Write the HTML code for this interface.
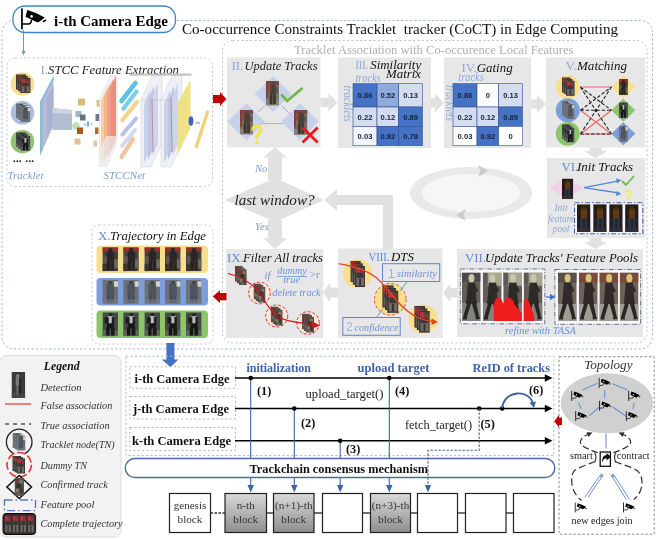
<!DOCTYPE html>
<html><head><meta charset="utf-8"><title>CoCT</title>
<style>html,body{margin:0;padding:0;background:#fff;}svg{display:block;}text{white-space:pre;}</style>
</head><body>
<svg width="658" height="540" viewBox="0 0 658 540">
<rect width="658" height="540" fill="#fff"/>

<defs>
<filter id="bl" x="-5%" y="-5%" width="110%" height="110%"><feGaussianBlur stdDeviation="0.45"/></filter>
<filter id="gb" x="0" y="0" width="658" height="540" filterUnits="userSpaceOnUse"><feGaussianBlur stdDeviation="0.4"/></filter>
<filter id="bl2" x="-5%" y="-5%" width="110%" height="110%"><feGaussianBlur stdDeviation="0.8"/></filter>
<linearGradient id="gblk" x1="0" y1="0" x2="0" y2="1"><stop offset="0" stop-color="#d9d9d9"/><stop offset="1" stop-color="#8f8f8f"/></linearGradient>
<!-- red/brown person (tracklet A) -->
<symbol id="pA" viewBox="0 0 10 16" preserveAspectRatio="none">
<rect width="10" height="16" fill="#7c7064"/>
<rect x="0" y="0" width="10" height="2.600" fill="#7c4a42"/>
<rect x="0" y="0" width="1.600" height="11" fill="#843e3a"/>
<rect x="0" y="12.500" width="10" height="3.500" fill="#8a8074"/>
<rect x="3" y="2.400" width="4.600" height="6.600" fill="#4a4036"/>
<rect x="2" y="3.500" width="2.200" height="3" fill="#8a3c36"/>
<rect x="2.800" y="9" width="2.200" height="6.200" fill="#3a342c"/>
<rect x="5.400" y="9" width="2.200" height="6.200" fill="#3e3830"/>
<rect x="4" y="0.800" width="2.600" height="2" fill="#5a4438"/>
<rect x="7.600" y="4" width="1.600" height="4" fill="#5c544a"/>
</symbol>
<symbol id="pA2" viewBox="0 0 10 16" preserveAspectRatio="none">
<rect width="10" height="16" fill="#4a423e"/>
<rect x="0.800" y="0.800" width="4.200" height="4.200" fill="#b8323a"/>
<rect x="5.500" y="2.500" width="3" height="3.500" fill="#983038"/>
<rect x="2.500" y="5.500" width="5" height="3.500" fill="#3a3532"/>
<rect x="1.500" y="9" width="7.500" height="6" fill="#6e6a66"/>
<rect x="4.200" y="9.500" width="1.800" height="5.500" fill="#34302e"/>
<rect x="0" y="0" width="10" height="16" fill="none" stroke="#2e2a28" stroke-width=".8"/>
</symbol>
<symbol id="pF" viewBox="0 0 10 16" preserveAspectRatio="none">
<rect width="10" height="16" fill="#56524a"/>
<rect x="1" y="1" width="3" height="3" fill="#7e2e30"/>
<rect x="5" y="2" width="3.500" height="3" fill="#7c7a6c"/>
<rect x="2" y="5" width="5" height="4" fill="#33302a"/>
<rect x="1.500" y="9.500" width="3" height="3" fill="#807c6e"/>
<rect x="5.500" y="9" width="3" height="5" fill="#3a3832"/>
<rect x="3" y="13" width="3" height="2.500" fill="#6c6a5e"/>
</symbol>
<symbol id="pG" viewBox="0 0 10 16" preserveAspectRatio="none">
<rect width="10" height="16" fill="#3b3b3b"/>
<rect x="3.500" y="1.500" width="2" height="2" fill="#8c8c8c"/>
<rect x="3" y="3.500" width="2.500" height="5" fill="#7a7a7a"/>
<rect x="5.500" y="4" width="1.500" height="5" fill="#262626"/>
<rect x="3.500" y="8.500" width="1.500" height="6" fill="#6a6a6a"/>
<rect x="5.500" y="9" width="1.500" height="6" fill="#202020"/>
<rect x="0" y="13" width="10" height="3" fill="#505050" opacity=".6"/>
</symbol>
<symbol id="pA3" viewBox="0 0 10 16" preserveAspectRatio="none">
<rect width="10" height="16" fill="#4a403a"/>
<rect x="0" y="0" width="10" height="2.800" fill="#9a2e2c"/>
<rect x="3.800" y="0.600" width="2.600" height="2.600" fill="#2e2826"/>
<rect x="2.800" y="3" width="4.800" height="6" fill="#2c2826"/>
<rect x="0.500" y="6" width="2.500" height="5" fill="#5e5650"/>
<rect x="2.800" y="9" width="2.200" height="6.500" fill="#262220"/>
<rect x="5.400" y="9" width="2.200" height="6.500" fill="#2a2624"/>
<rect x="7.600" y="8" width="2.400" height="6" fill="#6c6862"/>
<rect x="0" y="11" width="2.800" height="5" fill="#3a3632"/>
</symbol>
<!-- grey/blue person (tracklet B) -->
<symbol id="pB" viewBox="0 0 10 16" preserveAspectRatio="none">
<rect width="10" height="16" fill="#6c7078"/>
<rect x="2.600" y="2.600" width="5" height="6.500" fill="#50545e"/>
<rect x="2.800" y="9" width="2.200" height="6.500" fill="#464c5a"/>
<rect x="5.200" y="9" width="2.200" height="6.500" fill="#4a505e"/>
<rect x="3.800" y="0.800" width="2.600" height="2.200" fill="#4a4642"/>
<rect x="7.400" y="1" width="2.600" height="3.600" fill="#d6d4c4"/>
<rect x="0" y="13" width="10" height="3" fill="#767a80" opacity=".6"/>
</symbol>
<!-- dark/white person (tracklet C) -->
<symbol id="pC" viewBox="0 0 10 16" preserveAspectRatio="none">
<rect width="10" height="16" fill="#474a46"/>
<rect x="0" y="12" width="10" height="4" fill="#60645e"/>
<rect x="3.600" y="2.400" width="3.400" height="5" fill="#bcc0c2"/>
<rect x="1.500" y="3.400" width="2.600" height="4" fill="#1a1c1c"/>
<rect x="6" y="3" width="1.600" height="5" fill="#1e2020"/>
<rect x="3" y="7.400" width="4.400" height="3" fill="#161818"/>
<rect x="2.400" y="10" width="2.200" height="5.500" fill="#141616"/>
<rect x="5.400" y="10" width="2.400" height="5.500" fill="#181a1a"/>
<rect x="4" y="0.600" width="2.400" height="2" fill="#2a2624"/>
</symbol>
<!-- walking person (VII strips) -->
<symbol id="pD" viewBox="0 0 19 48" preserveAspectRatio="none">
<rect width="19" height="48" fill="#625e59"/>
<rect x="0" y="0" width="19" height="9" fill="#4e4a46"/>
<rect x="0" y="30" width="19" height="18" fill="#84827e"/>
<ellipse cx="9.800" cy="5.500" rx="3" ry="4.200" fill="#cbc4ae"/>
<path d="M6 10 L13.500 10 L14.500 24 L15.500 31 L4 31 L5 24Z" fill="#2d2a28"/>
<path d="M5.500 30 L9.500 30 L5 44.500 L5.500 46.500 L1 46.500 L1.500 43.500Z" fill="#282523"/>
<path d="M10 30 L14.500 30 L17.500 43.500 L18.500 46 L14 46.500 L14 43.500Z" fill="#282523"/>
<path d="M13.500 12 L16.500 18 L15 20 L12.500 16Z" fill="#2d2a28"/>
</symbol>
<symbol id="pDy" viewBox="0 0 19 48" preserveAspectRatio="none">
<rect width="19" height="48" fill="#625e59"/>
<rect x="0" y="0" width="19" height="13" fill="#a9a58e"/>
<rect x="0" y="0" width="5" height="13" fill="#5e5a54"/>
<rect x="0" y="30" width="19" height="18" fill="#84827e"/>
<ellipse cx="9.800" cy="5.500" rx="3" ry="4.200" fill="#cbc4ae"/>
<path d="M6 10 L13.500 10 L14.500 24 L15.500 31 L4 31 L5 24Z" fill="#2d2a28"/>
<path d="M5.500 30 L9.500 30 L5 44.500 L5.500 46.500 L1 46.500 L1.500 43.500Z" fill="#282523"/>
<path d="M10 30 L14.500 30 L17.500 43.500 L18.500 46 L14 46.500 L14 43.500Z" fill="#282523"/>
<path d="M13.500 12 L16.500 18 L15 20 L12.500 16Z" fill="#2d2a28"/>
</symbol>
<symbol id="pD2" viewBox="0 0 19 48" preserveAspectRatio="none">
<rect width="19" height="48" fill="#6c635a"/>
<rect x="0" y="0" width="19" height="10" fill="#5a5048"/>
<rect x="0" y="31" width="19" height="17" fill="#a09c94"/>
<ellipse cx="9.800" cy="5.500" rx="3" ry="4.200" fill="#d6c67c"/>
<path d="M6 10 L13.500 10 L14.500 24 L15.500 31 L4 31 L5 24Z" fill="#322c2a"/>
<path d="M5.500 30 L9.500 30 L5 44.500 L5.500 46.500 L1 46.500 L1.500 43.500Z" fill="#2a2523"/>
<path d="M10 30 L14.500 30 L17.500 43.500 L18.500 46 L14 46.500 L14 43.500Z" fill="#2a2523"/>
<path d="M13.500 12 L16.500 18 L15 20 L12.500 16Z" fill="#322c2a"/>
</symbol>
<symbol id="pD3" viewBox="0 0 19 48" preserveAspectRatio="none">
<rect width="19" height="48" fill="#6c635a"/>
<rect x="0" y="0" width="19" height="10" fill="#7c4c38"/>
<rect x="0" y="31" width="19" height="17" fill="#a09c94"/>
<ellipse cx="9.800" cy="5.500" rx="3" ry="4.200" fill="#d6c67c"/>
<path d="M6 10 L13.500 10 L14.500 24 L15.500 31 L4 31 L5 24Z" fill="#322c2a"/>
<path d="M5.500 30 L9.500 30 L5 44.500 L5.500 46.500 L1 46.500 L1.500 43.500Z" fill="#2a2523"/>
<path d="M10 30 L14.500 30 L17.500 43.500 L18.500 46 L14 46.500 L14 43.500Z" fill="#2a2523"/>
<path d="M13.500 12 L16.500 18 L15 20 L12.500 16Z" fill="#322c2a"/>
</symbol>
<!-- dark person (VI init) -->
<symbol id="pE" viewBox="0 0 10 16" preserveAspectRatio="none">
<rect width="10" height="16" fill="#201c1a"/>
<rect x="2.800" y="2.400" width="4.600" height="6" fill="#5e3818"/>
<rect x="3.600" y="0.800" width="2.800" height="2.200" fill="#3a2616"/>
<rect x="2.200" y="8.400" width="2.600" height="6.600" fill="#2a3242"/>
<rect x="5.400" y="8.400" width="2.600" height="6.600" fill="#263040"/>
<rect x="0" y="14" width="10" height="2" fill="#3a3836" opacity=".7"/>
</symbol>
<!-- camera icon -->
<symbol id="cam" viewBox="0 0 27 22">
<rect x="1.1" y="0.4" width="1.7" height="21" fill="#000"/>
<path d="M2.800 16 H8 Q11.500 16 11.500 11.500" stroke="#000" stroke-width="1.500" fill="none"/>
<path d="M7.300 2.100 Q16 4.500 24.800 9.600 L22 11.800 Q19.500 13.800 17.600 14.600 L5.500 8.800 Z" fill="#000"/>
<circle cx="11.600" cy="8.400" r="1.300" fill="#fff"/>
<path d="M22.300 13.300 L25.500 11.300 L26.500 12.400 L23.600 14.400 Z" fill="#000"/>
</symbol>
</defs>
<g filter="url(#gb)"><rect x="2" y="20.5" width="650.500" height="328.500" rx="12" fill="none" stroke="#9db7dc" stroke-width="1" stroke-dasharray="2.2 2.2"/>
<rect x="222.5" y="40.5" width="424.500" height="302.500" rx="10" fill="none" stroke="#c4c4c4" stroke-width="1" stroke-dasharray="2.2 2.2"/>
<rect x="13" y="6" width="162.5" height="26.5" rx="12" fill="#fff" stroke="#3e86c6" stroke-width="1.3"/>
<use href="#cam" x="20" y="8" width="27" height="22"/>
<text x="54" y="25.5" fill="#000" text-anchor="start" style='font-family:"Liberation Serif", serif;font-size:15px;font-weight:bold;' textLength="114" lengthAdjust="spacingAndGlyphs">i-th Camera Edge</text>
<path d="M23.5 30 V54" stroke="#6f93c9" stroke-width="1"/><path d="M21.5 51 L23.5 55.5 L25.5 51Z" fill="#6f93c9"/>
<text x="182" y="33.5" fill="#111" text-anchor="start" style='font-family:"Liberation Serif", serif;font-size:15.05px;' xml:space="preserve" textLength="436" lengthAdjust="spacingAndGlyphs">Co-occurrence Constraints Tracklet  tracker (CoCT) in Edge Computing</text>
<text x="294" y="53.7" fill="#b0b0b0" text-anchor="start" style='font-family:"Liberation Serif", serif;font-size:12.6px;' textLength="279.5" lengthAdjust="spacingAndGlyphs">Tracklet Association with Co-occurence Local Features</text>
<rect x="7" y="58" width="205.5" height="128.5" rx="8" fill="#fff" stroke="#c9c9c9" stroke-width="1" stroke-dasharray="2.2 2.2"/>
<text x="40.5" y="73.5" fill="#8fa9d8" text-anchor="start" style='font-family:"Liberation Serif", serif;font-size:12.9px;' >I.</text>
<text x="48" y="73.5" fill="#222" text-anchor="start" style='font-family:"Liberation Serif", serif;font-size:12.9px;font-style:italic;' textLength="131" lengthAdjust="spacingAndGlyphs">STCC Feature Extraction</text>
<circle cx="22.5" cy="84" r="11.800" fill="#f8df8e"/>
<g filter="url(#bl)"><use href="#pA2" x="16.0" y="74.5" width="10" height="15"/><use href="#pA2" x="18.2" y="76.3" width="10" height="15"/><use href="#pA2" x="20.4" y="78.1" width="10" height="15"/></g>
<circle cx="22.5" cy="112.8" r="11.800" fill="#a9c0e2"/>
<g filter="url(#bl)"><use href="#pB" x="16.0" y="103.3" width="10" height="15"/><use href="#pB" x="18.2" y="105.1" width="10" height="15"/><use href="#pB" x="20.4" y="106.9" width="10" height="15"/></g>
<circle cx="22.5" cy="141.7" r="11.800" fill="#8fc477"/>
<g filter="url(#bl)"><use href="#pC" x="16.0" y="132.2" width="10" height="15"/><use href="#pC" x="18.2" y="134.0" width="10" height="15"/><use href="#pC" x="20.4" y="135.8" width="10" height="15"/></g>
<text x="13" y="162" fill="#000" text-anchor="start" style='font-family:"Liberation Serif", serif;font-size:10.5px;font-weight:bold;' letter-spacing="0.3">...</text>
<text x="25.5" y="162" fill="#000" text-anchor="start" style='font-family:"Liberation Serif", serif;font-size:10.5px;font-weight:bold;' letter-spacing="0.3">...</text>
<text x="7.5" y="178.5" fill="#7f9bd0" text-anchor="start" style='font-family:"Liberation Serif", serif;font-size:11px;font-style:italic;' >Tracklet</text>
<text x="103.5" y="178.5" fill="#7f9bd0" text-anchor="start" style='font-family:"Liberation Serif", serif;font-size:11px;font-style:italic;' >STCCNet</text>

<g filter="url(#bl)">
<!-- first conv slab -->
<path d="M40 102 L53.5 76 L53.5 126 L40 155.5Z" fill="#b6bcd6"/>
<path d="M40 102 L53.5 76 L53.5 80 L42.5 101 L42.5 150 L40 155.5Z" fill="#86bcd4"/>
<path d="M47 98 L53.5 86 L53.5 122 L47 135Z" fill="#a9aed0" opacity=".9"/>
<!-- funnel -->
<path d="M52.5 108 L72 110 L72 130 L52.5 130Z" fill="#b4bed2"/>
<path d="M52.5 108 L72 110 L72 114 L52.5 113Z" fill="#ccd4e2"/>
<!-- small cubes -->
<rect x="78" y="98.500" width="7" height="7" fill="#d9bc7c"/>
<rect x="75.500" y="111" width="6" height="6" fill="#a4b4c8"/>
<rect x="80" y="114.500" width="5.500" height="6" fill="#6a7078"/>
<circle cx="76" cy="126" r="3.800" fill="#bfe0b0"/>
<rect x="77" y="127.500" width="6" height="6.500" fill="#a8581e"/>
<rect x="74.500" y="138.500" width="6" height="6" fill="#e2c39e"/>
<rect x="96.500" y="100" width="4" height="6.500" fill="#dfc084"/>
<rect x="95.500" y="114" width="4" height="7" fill="#6e7884"/>
<rect x="95" y="127.500" width="3.500" height="6.500" fill="#b06a32"/>
<rect x="93.500" y="140.500" width="3.500" height="6" fill="#e6bfb0"/>
<ellipse cx="88" cy="124" rx="1.300" ry="3" fill="#6fb0e0"/>
<ellipse cx="85" cy="124.500" rx=".8" ry="1.800" fill="#9fd0c8"/>
<ellipse cx="91.500" cy="124" rx=".8" ry="1.800" fill="#a8d8c8"/>
<!-- STCC block 1 : orange/red slabs in glass box -->
<path d="M99.500 100 L110 76 L117 76 L117 142 L107 166.500 L99.500 166.500Z" fill="#f2f3f7" stroke="#cfd2da" stroke-width=".5"/>
<path d="M101 101 L107 88 L107 152 L101 164Z" fill="#f6cf9c"/>
<path d="M104 97 L110 83 L110 150 L104 162Z" fill="#f4b48c"/>
<path d="M107.500 92 L113 79 L113 146 L107.500 158Z" fill="#f09e88"/>
<path d="M111 86 L116 76 L116 140 L111 151Z" fill="#ee8c80"/>
<path d="M99.500 150 L106 136 L117 136 L117 142 L107 166.500 L99.500 166.500Z" fill="#eceef4" opacity=".7"/>
<!-- diagonal bars -->
<path d="M121.5 101 L135.5 83" stroke="#5cc2e2" stroke-width="4.6" stroke-linecap="round" fill="none"/>
<path d="M123.5 108.5 L136.5 91.5" stroke="#7acfe8" stroke-width="4.2" stroke-linecap="round" fill="none"/>
<path d="M122.4 120 L137 102" stroke="#f2d58a" stroke-width="4.2" stroke-linecap="round" fill="none"/>
<path d="M122.4 134.5 L136 118.5" stroke="#b8c2e6" stroke-width="4.2" stroke-linecap="round" fill="none"/>
<path d="M122 146 L135 130" stroke="#d2d9ef" stroke-width="3.8" stroke-linecap="round" fill="none"/>
<path d="M121.5 157 L133 139" stroke="#f1c4a2" stroke-width="4.2" stroke-linecap="round" fill="none"/>
<!-- glass box 2 -->
<path d="M141 100 L152 75.500 L162 75.500 L162 143 L151 167 L141 167Z" fill="#eef0f6" stroke="#c6cad4" stroke-width=".5"/>
<path d="M144 104 L150 90 L150 150 L144 163Z" fill="#c9d2e8"/>
<path d="M148 100 L154 86 L154 147 L148 160Z" fill="#bcc7e2"/>
<path d="M152.500 96 L158 83 L158 144 L152.500 156Z" fill="#cdd5ea"/>
<path d="M151.500 98 L152.500 98 L153.500 152 L152.500 152Z" fill="#c686a8"/>
<!-- glass box 3 -->
<path d="M161 100 L172 75.500 L182 75.500 L182 143 L171 167 L161 167Z" fill="#eef0f6" stroke="#c6cad4" stroke-width=".5" opacity=".95"/>
<path d="M164 104 L170 90 L170 150 L164 163Z" fill="#c9d2e8"/>
<path d="M168 100 L174 86 L174 147 L168 160Z" fill="#bcc7e2"/>
<path d="M172.500 96 L178 83 L178 144 L172.500 156Z" fill="#cdd5ea"/>
<path d="M170.500 98 L171.500 98 L172.500 152 L171.500 152Z" fill="#c686a8"/>
<path d="M141 100 H161 M161 100 H172" stroke="#b9bec9" stroke-width=".5"/>
<!-- top grey bar -->
<rect x="129.500" y="73.500" width="62" height="2.200" fill="#c4c4c4"/>
<!-- yellow plane -->
<path d="M177.500 103 L190.500 80 L190.500 128 L177.500 155Z" fill="#eee07c" opacity=".93"/>
<ellipse cx="191" cy="121" rx="2.400" ry="4.800" fill="#3866c0"/>
<rect x="195.500" y="121.800" width="4.500" height="2" fill="#b4b8c0"/>
<!-- final pencil bar -->
<path d="M194.500 147 L206.500 110 L209.500 111 L197.500 148.500Z" fill="#f0cf74"/>
</g>

<path d="M213 95 H220 V92 L226.5 99 L220 106 V103 H213Z" fill="#c00000"/>
<rect x="227" y="57.5" width="93.5" height="90" fill="#e7e7e7"/>
<rect x="338" y="57.5" width="93" height="90.5" fill="#e7e7e7"/>
<rect x="444" y="57.5" width="87" height="90.5" fill="#e7e7e7"/>
<rect x="546" y="57.5" width="99" height="90" fill="#e7e7e7"/>
<rect x="547" y="158" width="98" height="80" fill="#e7e7e7"/>
<rect x="457" y="249" width="186" height="88" fill="#e7e7e7"/>
<rect x="338" y="248.5" width="104.6" height="89.5" fill="#e7e7e7"/>
<rect x="226" y="249" width="97.3" height="89" fill="#e7e7e7"/>
<path d="M320.5 97.8 H328.5 V93.3 L337.5 102.5 L328.5 111.7 V107.2 H320.5Z" fill="#e1e1e1"/>
<path d="M431 98.3 H435 V93.8 L444 103 L435 112.2 V107.7 H431Z" fill="#e1e1e1"/>
<path d="M531 99.5 H537 V95 L546 104 L537 113 V108.5 H531Z" fill="#e1e1e1"/>
<path d="M589.5 147.5 V151 H583.5 L595.5 158 L607.5 151 H601.5 V147.5Z" fill="#e1e1e1"/>
<path d="M589.5 238 V242 H583.5 L595.5 249 L607.5 242 H601.5 V238Z" fill="#e1e1e1"/>
<path d="M457.5 288.1 H450.5 V283.40000000000003 L443 292.8 L450.5 302.2 V297.5 H457.5Z" fill="#e1e1e1"/>
<path d="M338.5 287.4 H330 V282.5 L323 292.5 L330 302.5 V297.6 H338.5Z" fill="#e1e1e1"/>
<path d="M268 180 V157.5 H263 L275 147.5 L287 157.5 H282 V180Z" fill="#e1e1e1"/>
<path d="M268 220 V238 H263 L275 249 L287 238 H282 V220Z" fill="#e1e1e1"/>
<path d="M225 200 L275 178 L324 200 L275 222Z" fill="#e1e1e1"/>
<path d="M324 200 L337 189 V195 H393 V249 H383 V205 H337 V211Z" fill="#e1e1e1"/>
<text x="274.5" y="204.5" fill="#222" text-anchor="middle" style='font-family:"Liberation Serif", serif;font-size:15.1px;font-style:italic;' textLength="80" lengthAdjust="spacingAndGlyphs">last window?</text>
<text x="255" y="172" fill="#7f9bd0" text-anchor="start" style='font-family:"Liberation Serif", serif;font-size:10.5px;font-style:italic;' >No</text>
<text x="255" y="230.2" fill="#7f9bd0" text-anchor="start" style='font-family:"Liberation Serif", serif;font-size:10.5px;font-style:italic;' >Yes</text>
<ellipse cx="471" cy="193" rx="61" ry="26" fill="#e9e9e9"/>
<ellipse cx="471" cy="193" rx="49" ry="19" fill="#f6f6f6"/>
<path d="M478 165 L488 171 L478 177 L480.5 171Z" fill="#cbcbcb"/>
<path d="M466 209 L456 215 L466 221 L463.500 215Z" fill="#cbcbcb"/>
<text x="231.5" y="70" fill="#8fa9d8" text-anchor="start" style='font-family:"Liberation Serif", serif;font-size:12.9px;' >II.</text>
<text x="244.5" y="70" fill="#222" text-anchor="start" style='font-family:"Liberation Serif", serif;font-size:12.9px;font-style:italic;' textLength="73" lengthAdjust="spacingAndGlyphs">Update Tracks</text>
<path d="M254.5 94 L273 76 L291.5 94 L273 112Z" fill="#c5d3ea"/>
<path d="M227.3 121.8 L246.3 103.3 L265.3 121.8 L246.3 140.3Z" fill="#c5d3ea"/>
<path d="M281.5 121.8 L300 103.3 L318.5 121.8 L300 140.3Z" fill="#c5d3ea"/>
<path d="M257.700 112 L265.300 105.400 M282 106 L291 115 M262 123.600 L283 123.600" stroke="#9fafd6" stroke-width="1" fill="none"/>
<g filter="url(#bl)"><use href="#pA" x="266" y="81" width="13" height="24.500"/>
<use href="#pA" x="240" y="110" width="13" height="24.500"/>
<use href="#pA" x="294" y="110" width="13.500" height="25"/></g>
<path d="M281.200 94.500 L287.300 100.800 L302.500 88" stroke="#70b84a" stroke-width="2.800" fill="none"/>
<path d="M252.800 130.500 C252.500 124.500 261 124.500 260.800 130 C260.700 133.500 256.500 133.500 256.500 138.500" stroke="#f2e63e" stroke-width="3" fill="none"/><circle cx="256.500" cy="142.200" r="1.800" fill="#f2e63e"/>
<path d="M302.500 127.400 L317.700 142.600 M317.700 127.400 L302.500 142.600" stroke="#e01c24" stroke-width="2.800" fill="none"/>
<text x="355.5" y="69" fill="#8fa9d8" text-anchor="start" style='font-family:"Liberation Serif", serif;font-size:12.9px;' textLength="12.5" lengthAdjust="spacingAndGlyphs">III.</text>
<text x="370.2" y="69" fill="#111" text-anchor="start" style='font-family:"Liberation Serif", serif;font-size:12.9px;font-style:italic;' textLength="51" lengthAdjust="spacingAndGlyphs">Similarity</text>
<text x="386" y="78" fill="#111" text-anchor="start" style='font-family:"Liberation Serif", serif;font-size:12.9px;font-style:italic;' textLength="35" lengthAdjust="spacingAndGlyphs">Matrix</text>
<text x="355.5" y="82.3" fill="#8fa9d8" text-anchor="start" style='font-family:"Liberation Serif", serif;font-size:12px;font-style:italic;' textLength="25" lengthAdjust="spacingAndGlyphs">tracks</text>
<text transform="translate(344,85.5) rotate(90)" fill="#8fa9d8" textLength="36.5" lengthAdjust="spacingAndGlyphs" style='font-family:"Liberation Serif", serif;font-size:11.5px;font-style:italic'>tracklets</text>
<rect x="353" y="83.7" width="24" height="23.299999999999997" fill="#4472c4" stroke="#2f4f8f" stroke-width=".6"/><text x="365.0" y="98.35" text-anchor="middle" fill="#15203a" style='font-family:"Liberation Sans", sans-serif;font-size:7.6px;font-weight:bold'>0.86</text><rect x="377" y="83.7" width="21.69999999999999" height="23.299999999999997" fill="#8faadc" stroke="#2f4f8f" stroke-width=".6"/><text x="387.85" y="98.35" text-anchor="middle" fill="#15203a" style='font-family:"Liberation Sans", sans-serif;font-size:7.6px;font-weight:bold'>0.52</text><rect x="398.7" y="83.7" width="23.80000000000001" height="23.299999999999997" fill="#d3dcf0" stroke="#2f4f8f" stroke-width=".6"/><text x="410.6" y="98.35" text-anchor="middle" fill="#15203a" style='font-family:"Liberation Sans", sans-serif;font-size:7.6px;font-weight:bold'>0.13</text><rect x="353" y="107" width="24" height="19.299999999999997" fill="#d3dcf0" stroke="#2f4f8f" stroke-width=".6"/><text x="365.0" y="119.65" text-anchor="middle" fill="#15203a" style='font-family:"Liberation Sans", sans-serif;font-size:7.6px;font-weight:bold'>0.22</text><rect x="377" y="107" width="21.69999999999999" height="19.299999999999997" fill="#d3dcf0" stroke="#2f4f8f" stroke-width=".6"/><text x="387.85" y="119.65" text-anchor="middle" fill="#15203a" style='font-family:"Liberation Sans", sans-serif;font-size:7.6px;font-weight:bold'>0.12</text><rect x="398.7" y="107" width="23.80000000000001" height="19.299999999999997" fill="#4472c4" stroke="#2f4f8f" stroke-width=".6"/><text x="410.6" y="119.65" text-anchor="middle" fill="#15203a" style='font-family:"Liberation Sans", sans-serif;font-size:7.6px;font-weight:bold'>0.89</text><rect x="353" y="126.3" width="24" height="19.39999999999999" fill="#f3f5fb" stroke="#2f4f8f" stroke-width=".6"/><text x="365.0" y="139.0" text-anchor="middle" fill="#15203a" style='font-family:"Liberation Sans", sans-serif;font-size:7.6px;font-weight:bold'>0.03</text><rect x="377" y="126.3" width="21.69999999999999" height="19.39999999999999" fill="#4472c4" stroke="#2f4f8f" stroke-width=".6"/><text x="387.85" y="139.0" text-anchor="middle" fill="#15203a" style='font-family:"Liberation Sans", sans-serif;font-size:7.6px;font-weight:bold'>0.92</text><rect x="398.7" y="126.3" width="23.80000000000001" height="19.39999999999999" fill="#4472c4" stroke="#2f4f8f" stroke-width=".6"/><text x="410.6" y="139.0" text-anchor="middle" fill="#15203a" style='font-family:"Liberation Sans", sans-serif;font-size:7.6px;font-weight:bold'>0.78</text>
<text x="461.5" y="71.5" fill="#8fa9d8" text-anchor="start" style='font-family:"Liberation Serif", serif;font-size:12.9px;' >IV.</text>
<text x="476.7" y="71.5" fill="#111" text-anchor="start" style='font-family:"Liberation Serif", serif;font-size:12.9px;font-style:italic;' textLength="36" lengthAdjust="spacingAndGlyphs">Gating</text>
<text x="458.3" y="81" fill="#8fa9d8" text-anchor="start" style='font-family:"Liberation Serif", serif;font-size:12px;font-style:italic;' textLength="25.5" lengthAdjust="spacingAndGlyphs">tracks</text>
<text transform="translate(445.5,85) rotate(90)" fill="#8fa9d8" textLength="36" lengthAdjust="spacingAndGlyphs" style='font-family:"Liberation Serif", serif;font-size:11.5px;font-style:italic'>tracklets</text>
<rect x="453" y="83.7" width="24" height="23.299999999999997" fill="#4472c4" stroke="#2f4f8f" stroke-width=".6"/><text x="465.0" y="98.35" text-anchor="middle" fill="#15203a" style='font-family:"Liberation Sans", sans-serif;font-size:7.6px;font-weight:bold'>0.86</text><rect x="477" y="83.7" width="21.69999999999999" height="23.299999999999997" fill="#ffffff" stroke="#2f4f8f" stroke-width=".6"/><text x="487.85" y="98.35" text-anchor="middle" fill="#15203a" style='font-family:"Liberation Sans", sans-serif;font-size:7.6px;font-weight:bold'>0</text><rect x="498.7" y="83.7" width="23.80000000000001" height="23.299999999999997" fill="#d3dcf0" stroke="#2f4f8f" stroke-width=".6"/><text x="510.6" y="98.35" text-anchor="middle" fill="#15203a" style='font-family:"Liberation Sans", sans-serif;font-size:7.6px;font-weight:bold'>0.13</text><rect x="453" y="107" width="24" height="19.299999999999997" fill="#d3dcf0" stroke="#2f4f8f" stroke-width=".6"/><text x="465.0" y="119.65" text-anchor="middle" fill="#15203a" style='font-family:"Liberation Sans", sans-serif;font-size:7.6px;font-weight:bold'>0.22</text><rect x="477" y="107" width="21.69999999999999" height="19.299999999999997" fill="#d3dcf0" stroke="#2f4f8f" stroke-width=".6"/><text x="487.85" y="119.65" text-anchor="middle" fill="#15203a" style='font-family:"Liberation Sans", sans-serif;font-size:7.6px;font-weight:bold'>0.12</text><rect x="498.7" y="107" width="23.80000000000001" height="19.299999999999997" fill="#4472c4" stroke="#2f4f8f" stroke-width=".6"/><text x="510.6" y="119.65" text-anchor="middle" fill="#15203a" style='font-family:"Liberation Sans", sans-serif;font-size:7.6px;font-weight:bold'>0.89</text><rect x="453" y="126.3" width="24" height="19.39999999999999" fill="#ffffff" stroke="#2f4f8f" stroke-width=".6"/><text x="465.0" y="139.0" text-anchor="middle" fill="#15203a" style='font-family:"Liberation Sans", sans-serif;font-size:7.6px;font-weight:bold'>0.03</text><rect x="477" y="126.3" width="21.69999999999999" height="19.39999999999999" fill="#4472c4" stroke="#2f4f8f" stroke-width=".6"/><text x="487.85" y="139.0" text-anchor="middle" fill="#15203a" style='font-family:"Liberation Sans", sans-serif;font-size:7.6px;font-weight:bold'>0.92</text><rect x="498.7" y="126.3" width="23.80000000000001" height="19.39999999999999" fill="#ffffff" stroke="#2f4f8f" stroke-width=".6"/><text x="510.6" y="139.0" text-anchor="middle" fill="#15203a" style='font-family:"Liberation Sans", sans-serif;font-size:7.6px;font-weight:bold'>0</text>
<text x="565.5" y="70" fill="#8fa9d8" text-anchor="start" style='font-family:"Liberation Serif", serif;font-size:12.9px;' >V.</text>
<text x="577" y="70" fill="#111" text-anchor="start" style='font-family:"Liberation Serif", serif;font-size:12.9px;font-style:italic;' textLength="50" lengthAdjust="spacingAndGlyphs">Matching</text>
<circle cx="567.800" cy="87" r="12" fill="#f8df8e"/>
<g filter="url(#bl)"><use href="#pA2" x="562.0" y="77.5" width="8.5" height="15"/><use href="#pA2" x="564.0" y="79.1" width="8.5" height="15"/><use href="#pA2" x="566.0" y="80.7" width="8.5" height="15"/></g>
<circle cx="567.800" cy="110.3" r="12" fill="#7aa0dc"/>
<g filter="url(#bl)"><use href="#pB" x="562.0" y="100.8" width="8.5" height="15"/><use href="#pB" x="564.0" y="102.4" width="8.5" height="15"/><use href="#pB" x="566.0" y="104.0" width="8.5" height="15"/></g>
<circle cx="567.800" cy="133.7" r="12" fill="#8cc66a"/>
<g filter="url(#bl)"><use href="#pC" x="562.0" y="124.2" width="8.5" height="15"/><use href="#pC" x="564.0" y="125.8" width="8.5" height="15"/><use href="#pC" x="566.0" y="127.4" width="8.5" height="15"/></g>
<g filter="url(#bl)">
<path d="M611.3 87 L623.3 75.5 L635.3 87 L623.3 98.5Z" fill="#f8df8e"/>
<use href="#pA3" x="618.900" y="79" width="9" height="16"/>
<path d="M611.3 110.3 L623.3 98.8 L635.3 110.3 L623.3 121.8Z" fill="#8cc66a"/>
<use href="#pC" x="618.900" y="102.300" width="9" height="16"/>
<path d="M611.3 133.7 L623.3 122.19999999999999 L635.3 133.7 L623.3 145.2Z" fill="#7aa0dc"/>
<use href="#pB" x="618.900" y="125.700" width="9" height="16"/>
</g>
<path d="M580.4 87 L611.5 87 M580.4 110.3 L611.5 134 M580.4 134 L611.5 110.3 M580.4 134 L611.5 134" stroke="#f0646c" stroke-width="1.200" fill="none"/>
<path d="M580.4 87 L611.5 110.3 M580.4 87 L611.5 134 M580.4 110.3 L611.5 87 M580.4 110.3 L611.5 110.3 M580.4 134 L611.5 87 M580.4 134 L611.5 134" stroke="#222" stroke-width="1.100" stroke-dasharray="3.500 1.800" fill="none"/>
<circle cx="596" cy="110.300" r="1.300" fill="#222"/>
<text x="561.5" y="170.7" fill="#5f8bd0" text-anchor="start" style='font-family:"Liberation Serif", serif;font-size:12.9px;' >VI.</text>
<text x="577" y="170.7" fill="#111" text-anchor="start" style='font-family:"Liberation Serif", serif;font-size:12.9px;font-style:italic;' textLength="56" lengthAdjust="spacingAndGlyphs">Init Tracks</text>
<path d="M550.0 188 L566.5 177 L583.0 188 L566.5 199Z" fill="#f4d0e6"/>
<g filter="url(#bl)"><use href="#pE" x="561.900" y="178.600" width="11.300" height="20.400"/></g>
<path d="M584 187.600 L619 180.800 M584 187.600 L619 193" stroke="#5a86d6" stroke-width="1.300" fill="none"/>
<path d="M616 178.500 L621.500 180 L617 183.500Z M616.500 191 L621.500 194 L616 196Z" fill="#5a86d6"/>
<path d="M622 181 L626 185 L634 176" stroke="#6cc04a" stroke-width="1.8" fill="none"/>
<text x="624" y="200" fill="#f3e86a" text-anchor="start" style='font-family:"Liberation Sans", sans-serif;font-size:14px;font-weight:bold;' >?</text>
<text x="554.5" y="211" fill="#8fa9d8" text-anchor="start" style='font-family:"Liberation Serif", serif;font-size:9.4px;font-style:italic;' >Init</text>
<text x="548" y="221.8" fill="#8fa9d8" text-anchor="start" style='font-family:"Liberation Serif", serif;font-size:9.4px;font-style:italic;' >feature</text>
<text x="552.8" y="231.6" fill="#8fa9d8" text-anchor="start" style='font-family:"Liberation Serif", serif;font-size:9.4px;font-style:italic;' >pool</text>
<rect x="574.500" y="202.800" width="68.300" height="31" fill="#f4f6fb" stroke="#3d5fa8" stroke-width="1.100" stroke-dasharray="5 2 1.500 2"/>
<g filter="url(#bl)">
<use href="#pE" x="577" y="204.200" width="13.500" height="27.800"/>
<use href="#pE" x="593.2" y="204.200" width="13.500" height="27.800"/>
<use href="#pE" x="609.2" y="204.200" width="13.500" height="27.800"/>
<use href="#pE" x="625.1" y="204.200" width="13.500" height="27.800"/>
</g>
<text x="465" y="262" fill="#5f8bd0" text-anchor="start" style='font-family:"Liberation Serif", serif;font-size:12.9px;' >VII.</text>
<text x="485" y="262" fill="#111" text-anchor="start" style='font-family:"Liberation Serif", serif;font-size:12.9px;font-style:italic;' textLength="153" lengthAdjust="spacingAndGlyphs">Update Tracks' Feature Pools</text>
<rect x="460.300" y="269" width="84.500" height="54.800" fill="#f6f7fb" stroke="#6a7384" stroke-width="1" stroke-dasharray="5 1.5 1 1.5"/>
<rect x="554.800" y="269.500" width="85.800" height="54.800" fill="#f6f7fb" stroke="#6a7384" stroke-width="1" stroke-dasharray="5 1.5 1 1.500"/>
<g filter="url(#bl)">
<use href="#pD" x="461.8" y="272.600" width="18.800" height="48.400"/>
<use href="#pDy" x="482.8" y="272.600" width="18.800" height="48.400"/>
<use href="#pDy" x="503.3" y="272.600" width="18.800" height="48.400"/>
<use href="#pDy" x="523.7" y="272.600" width="18.800" height="48.400"/>
<use href="#pD2" x="557.9" y="272.600" width="18.800" height="48.400"/>
<use href="#pD3" x="578.9" y="272.600" width="18.800" height="48.400"/>
<use href="#pD3" x="599.4" y="272.600" width="18.800" height="48.400"/>
<use href="#pD3" x="619.7" y="272.600" width="18.800" height="48.400"/>
<path d="M493.800 321 L493.800 304 Q495 298 498.300 297.700 Q501.500 298 502.500 302 L503.500 304 Q505 297.500 509 297.700 Q513 298 514.500 304 L516 306.500 L519 309 L522 313.500 L522 321Z" fill="#ee1c1c"/>
<path d="M523.700 321 L523.700 300 Q524.500 298 526 298.500 Q529 300 530.500 306 L534 315 L534.500 321Z" fill="#ee1c1c"/>
</g>
<path d="M546 297 H552" stroke="#3d6fc8" stroke-width="1.2"/><path d="M550 293.800 L555 297 L550 300.200Z" fill="#3d6fc8"/>
<text x="505" y="334" fill="#6f93d4" text-anchor="start" style='font-family:"Liberation Serif", serif;font-size:10.5px;font-style:italic;' textLength="71" lengthAdjust="spacingAndGlyphs">refine with TASA</text>
<text x="368.5" y="261" fill="#5f8bd0" text-anchor="start" style='font-family:"Liberation Serif", serif;font-size:12.9px;' textLength="21" lengthAdjust="spacingAndGlyphs">VIII.</text>
<text x="391" y="261" fill="#111" text-anchor="start" style='font-family:"Liberation Serif", serif;font-size:12.9px;font-style:italic;' textLength="23" lengthAdjust="spacingAndGlyphs">DTS</text>
<circle cx="357.700" cy="273.600" r="14.600" fill="#f8df8e"/>
<circle cx="390.300" cy="299.300" r="15.800" fill="#f8df8e" stroke="#e0543a" stroke-width="1" stroke-dasharray="3 2"/>
<circle cx="423" cy="319" r="14.600" fill="#f8df8e"/>
<g filter="url(#bl)"><use href="#pA2" x="350.6" y="261.0" width="10" height="21"/><use href="#pA2" x="352.8" y="263.5" width="10" height="21"/><use href="#pA2" x="355.0" y="266.0" width="10" height="21"/>
<use href="#pA2" x="382.5" y="285.5" width="11" height="22"/><use href="#pA2" x="384.9" y="288.1" width="11" height="22"/><use href="#pA2" x="387.3" y="290.7" width="11" height="22"/>
<use href="#pA2" x="414.5" y="306.0" width="10.5" height="21.5"/><use href="#pA2" x="416.8" y="308.5" width="10.5" height="21.5"/><use href="#pA2" x="419.1" y="311.0" width="10.5" height="21.5"/></g>
<path d="M338.500 263.700 C358 267 371 272 379.400 280.500 C387 288 391 295 397.200 301.300 C404 309 411 314.500 418.900 318 C424 320 428 321 433 321.500" stroke="#e0481c" stroke-width="1.300" fill="none"/><path d="M431.500 318.500 L438 322 L431.500 325Z" fill="#e0481c"/>
<rect x="382.500" y="263.700" width="57.200" height="17.800" fill="#e7e7e7" stroke="#5f86cc" stroke-width="1"/>
<rect x="342.800" y="317.500" width="57.400" height="17.800" fill="#e7e7e7" stroke="#5f86cc" stroke-width="1"/>
<path d="M400 291 L407 282 M383 309 L376 318" stroke="#5f86cc" stroke-width=".9"/>
<text x="388" y="277.5" fill="#9ab2de" text-anchor="start" style='font-family:"Liberation Sans", sans-serif;font-size:12px;' >1</text>
<text x="397" y="277" fill="#6f93d4" text-anchor="start" style='font-family:"Liberation Serif", serif;font-size:10.5px;font-style:italic;' textLength="40" lengthAdjust="spacingAndGlyphs">similarity</text>
<text x="346" y="331" fill="#9ab2de" text-anchor="start" style='font-family:"Liberation Sans", sans-serif;font-size:12px;' >2</text>
<text x="354.5" y="330.5" fill="#6f93d4" text-anchor="start" style='font-family:"Liberation Serif", serif;font-size:10.5px;font-style:italic;' textLength="44" lengthAdjust="spacingAndGlyphs">confidence</text>
<text x="227" y="261.5" fill="#5f8bd0" text-anchor="start" style='font-family:"Liberation Serif", serif;font-size:12.9px;' >IX.</text>
<text x="243" y="261.5" fill="#111" text-anchor="start" style='font-family:"Liberation Serif", serif;font-size:12.9px;font-style:italic;' textLength="80" lengthAdjust="spacingAndGlyphs">Filter All tracks</text>
<g filter="url(#bl)"><use href="#pF" x="234.8" y="265.7" width="8" height="16"/><use href="#pF" x="236.8" y="267.5" width="8" height="16"/><use href="#pF" x="238.8" y="269.3" width="8" height="16"/></g>
<circle cx="259.5" cy="293" r="10.8" fill="#fbe6d8" stroke="#d93030" stroke-width="1" stroke-dasharray="3 1.8"/>
<g filter="url(#bl)"><use href="#pF" x="253.5" y="283.5" width="8" height="16"/><use href="#pF" x="255.5" y="285.1" width="8" height="16"/><use href="#pF" x="257.5" y="286.7" width="8" height="16"/></g>
<circle cx="276.7" cy="316" r="11" fill="#fbe6d8" stroke="#d93030" stroke-width="1" stroke-dasharray="3 1.8"/>
<g filter="url(#bl)"><use href="#pF" x="270.7" y="306.5" width="8" height="16"/><use href="#pF" x="272.7" y="308.1" width="8" height="16"/><use href="#pF" x="274.7" y="309.7" width="8" height="16"/></g>
<circle cx="308" cy="323" r="11.3" fill="#fbe6d8" stroke="#d93030" stroke-width="1" stroke-dasharray="3 1.8"/>
<g filter="url(#bl)"><use href="#pF" x="302.0" y="313.5" width="8" height="16"/><use href="#pF" x="304.0" y="315.1" width="8" height="16"/><use href="#pF" x="306.0" y="316.7" width="8" height="16"/></g>
<path d="M228 273.500 C243 277 252 283 259.500 293 C266 302 269 310 276.700 316 C286 322 298 322 315 325" stroke="#d01818" stroke-width="1.2" fill="none"/><path d="M312.500 321.500 L320 325.500 L312.500 328.500Z" fill="#d01818"/>
<text x="264.5" y="278.5" fill="#6f93d4" text-anchor="start" style='font-family:"Liberation Serif", serif;font-size:10.5px;font-style:italic;' >if</text>
<text x="277.3" y="273.6" fill="#6f93d4" text-anchor="start" style='font-family:"Liberation Serif", serif;font-size:9.5px;font-style:italic;' textLength="29.5" lengthAdjust="spacingAndGlyphs">dummy</text>
<path d="M277 276.500 H307" stroke="#6f93d4" stroke-width=".8"/>
<text x="283.2" y="283.3" fill="#6f93d4" text-anchor="start" style='font-family:"Liberation Serif", serif;font-size:9.5px;font-style:italic;' textLength="17" lengthAdjust="spacingAndGlyphs">true</text>
<text x="310" y="277.5" fill="#6f93d4" text-anchor="start" style='font-family:"Liberation Serif", serif;font-size:10.5px;' >&gt;r</text>
<text x="272.3" y="296" fill="#6f93d4" text-anchor="start" style='font-family:"Liberation Serif", serif;font-size:10.5px;font-style:italic;' textLength="48.4" lengthAdjust="spacingAndGlyphs">delete track</text>
<rect x="92" y="225" width="121" height="119" rx="7" fill="#fff" stroke="#c9c9c9" stroke-width="1" stroke-dasharray="2.2 2.2"/>
<text x="98" y="239.8" fill="#5f8bd0" text-anchor="start" style='font-family:"Liberation Serif", serif;font-size:12.9px;' >X.</text>
<text x="110" y="239.8" fill="#111" text-anchor="start" style='font-family:"Liberation Serif", serif;font-size:12.9px;font-style:italic;' textLength="96" lengthAdjust="spacingAndGlyphs">Trajectory in Edge</text>
<rect x="96.500" y="245.5" width="111.500" height="27.500" rx="4" fill="#f8df8e"/>
<g filter="url(#bl)">
<use href="#pA3" x="102.4" y="247.3" width="15.6" height="24"/>
<use href="#pA3" x="123.2" y="247.3" width="15.6" height="24"/>
<use href="#pA3" x="144.4" y="247.3" width="15.6" height="24"/>
<use href="#pA3" x="165" y="247.3" width="15.6" height="24"/>
<use href="#pA3" x="186" y="247.3" width="15.6" height="24"/>
</g>
<rect x="96.500" y="278" width="111.500" height="27.500" rx="4" fill="#7b9fdc"/>
<g filter="url(#bl)">
<use href="#pB" x="102.4" y="279.8" width="15.6" height="24"/>
<use href="#pB" x="123.2" y="279.8" width="15.6" height="24"/>
<use href="#pB" x="144.4" y="279.8" width="15.6" height="24"/>
<use href="#pB" x="165" y="279.8" width="15.6" height="24"/>
<use href="#pB" x="186" y="279.8" width="15.6" height="24"/>
</g>
<rect x="96.500" y="310.5" width="111.500" height="27.500" rx="4" fill="#8cc56b"/>
<g filter="url(#bl)">
<use href="#pC" x="102.4" y="312.3" width="15.6" height="24"/>
<use href="#pC" x="123.2" y="312.3" width="15.6" height="24"/>
<use href="#pC" x="144.4" y="312.3" width="15.6" height="24"/>
<use href="#pC" x="165" y="312.3" width="15.6" height="24"/>
<use href="#pC" x="186" y="312.3" width="15.6" height="24"/>
</g>
<path d="M226.500 293 H220 V290.300 L212.800 296.600 L220 303 V300.300 H226.500Z" fill="#c00000"/>
<path d="M166.400 343 H174.400 V359.500 H178.400 L170.400 367.300 L162 359.500 H166.400Z" fill="#4472c4"/>
<rect x="-0.500" y="355.500" width="121.500" height="181.500" rx="7" fill="#f2f2f2" stroke="#dadada" stroke-width="1"/>
<text x="61.7" y="369.8" fill="#111" text-anchor="middle" style='font-family:"Liberation Serif", serif;font-size:11.7px;font-style:italic;font-weight:bold;' >Legend</text>
<g filter="url(#bl)"><use href="#pG" x="11.500" y="372" width="13.800" height="26"/></g>
<text x="40.5" y="390.5" fill="#333" text-anchor="start" style='font-family:"Liberation Serif", serif;font-size:10.1px;font-style:italic;' textLength="41" lengthAdjust="spacingAndGlyphs">Detection</text>
<path d="M5 404 H31.200" stroke="#e84040" stroke-width="1.300"/>
<text x="40.5" y="409.3" fill="#333" text-anchor="start" style='font-family:"Liberation Serif", serif;font-size:10.1px;font-style:italic;' textLength="71.8" lengthAdjust="spacingAndGlyphs">False association</text>
<path d="M5 424 H31.200" stroke="#555" stroke-width="1.600" stroke-dasharray="4 4"/>
<text x="40.5" y="428.7" fill="#333" text-anchor="start" style='font-family:"Liberation Serif", serif;font-size:10.1px;font-style:italic;' textLength="69.2" lengthAdjust="spacingAndGlyphs">True association</text>
<circle cx="19.200" cy="442" r="12.800" fill="#f2f2f2" stroke="#222" stroke-width="1.3"/>
<g filter="url(#bl)"><use href="#pB" x="12.5" y="433.0" width="9" height="15"/><use href="#pB" x="14.5" y="434.3" width="9" height="15"/><use href="#pB" x="16.5" y="435.6" width="9" height="15"/></g>
<text x="40.5" y="448.2" fill="#333" text-anchor="start" style='font-family:"Liberation Serif", serif;font-size:10.1px;font-style:italic;' textLength="74.1" lengthAdjust="spacingAndGlyphs">Tracklet node(TN)</text>
<circle cx="19.200" cy="464.700" r="12.200" fill="#f2f2f2" stroke="#e63c3c" stroke-width="1.700" stroke-dasharray="8 3"/>
<g filter="url(#bl)"><use href="#pA2" x="12.5" y="456.0" width="8.5" height="15"/><use href="#pA2" x="14.5" y="457.2" width="8.5" height="15"/><use href="#pA2" x="16.5" y="458.4" width="8.5" height="15"/></g>
<text x="40.5" y="468.7" fill="#333" text-anchor="start" style='font-family:"Liberation Serif", serif;font-size:10.1px;font-style:italic;' textLength="46.5" lengthAdjust="spacingAndGlyphs">Dummy TN</text>
<path d="M6.900 487 L19.200 475.500 L31.500 487 L19.200 498.500Z" fill="#f2f2f2" stroke="#111" stroke-width="1.500"/>
<g filter="url(#bl)"><use href="#pF" x="14.500" y="478" width="9.500" height="18"/></g>
<text x="40.5" y="488" fill="#333" text-anchor="start" style='font-family:"Liberation Serif", serif;font-size:10.1px;font-style:italic;' textLength="67.2" lengthAdjust="spacingAndGlyphs">Confirmed track</text>
<rect x="4.500" y="500" width="31" height="10.600" fill="none" stroke="#5a78c0" stroke-width="1.400" stroke-dasharray="8 3 1.500 3"/>
<text x="40.5" y="507.8" fill="#333" text-anchor="start" style='font-family:"Liberation Serif", serif;font-size:10.1px;font-style:italic;' textLength="54" lengthAdjust="spacingAndGlyphs">Feature pool</text>
<rect x="3" y="513.500" width="32.600" height="21" rx="3" fill="#3a2c26" stroke="#111" stroke-width="1"/>
<use href="#pA2" x="4.5" y="515" width="7" height="18"/>
<use href="#pA2" x="12.1" y="515" width="7" height="18"/>
<use href="#pA2" x="19.7" y="515" width="7" height="18"/>
<use href="#pA2" x="27.299999999999997" y="515" width="7" height="18"/>
<text x="40.5" y="527" fill="#333" text-anchor="start" style='font-family:"Liberation Serif", serif;font-size:10.1px;font-style:italic;' textLength="82" lengthAdjust="spacingAndGlyphs">Complete trajectory</text>
<rect x="126" y="356.200" width="427.800" height="99.400" fill="none" stroke="#aab6cc" stroke-width="1" stroke-dasharray="2.2 2.2"/>
<rect x="129.800" y="366.8" width="105.700" height="21.5" fill="#fff" stroke="#b9b9b9" stroke-width="1" stroke-dasharray="2.2 2.2"/>
<rect x="129.800" y="396.5" width="105.700" height="22.5" fill="#fff" stroke="#b9b9b9" stroke-width="1" stroke-dasharray="2.2 2.2"/>
<rect x="129.800" y="427.5" width="105.700" height="23.0" fill="#fff" stroke="#b9b9b9" stroke-width="1" stroke-dasharray="2.2 2.2"/>
<text x="134.5" y="382.5" fill="#111" text-anchor="start" style='font-family:"Liberation Serif", serif;font-size:12.5px;font-weight:bold;' textLength="95" lengthAdjust="spacingAndGlyphs">i-th Camera Edge</text>
<text x="133" y="413" fill="#111" text-anchor="start" style='font-family:"Liberation Serif", serif;font-size:12.5px;font-weight:bold;' textLength="96" lengthAdjust="spacingAndGlyphs">j-th Camera Edge</text>
<text x="132" y="444.5" fill="#111" text-anchor="start" style='font-family:"Liberation Serif", serif;font-size:12.5px;font-weight:bold;' textLength="99" lengthAdjust="spacingAndGlyphs">k-th Camera Edge</text>
<path d="M235 378 H546" stroke="#000" stroke-width="1.6"/>
<path d="M544.800 374.3 L552.500 378 L544.800 381.7Z" fill="#000"/>
<path d="M235 408.5 H546" stroke="#000" stroke-width="1.6"/>
<path d="M544.800 404.8 L552.500 408.5 L544.800 412.2Z" fill="#000"/>
<path d="M235 440.7 H546" stroke="#000" stroke-width="1.6"/>
<path d="M544.800 437.0 L552.500 440.7 L544.800 444.4Z" fill="#000"/>
<path d="M250.7 378 V486" stroke="#3f63a8" stroke-width="1.1"/><path d="M247.5 485 L250.7 492.5 L253.89999999999998 485Z" fill="#3f63a8"/>
<path d="M294.3 408.5 V486" stroke="#3f63a8" stroke-width="1.1"/><path d="M291.1 485 L294.3 492.5 L297.5 485Z" fill="#3f63a8"/>
<path d="M340.2 440.7 V486" stroke="#3f63a8" stroke-width="1.1"/><path d="M337.0 485 L340.2 492.5 L343.4 485Z" fill="#3f63a8"/>
<path d="M389.3 378 V486" stroke="#3f63a8" stroke-width="1.1"/><path d="M386.1 485 L389.3 492.5 L392.5 485Z" fill="#3f63a8"/>
<circle cx="250.7" cy="378" r="2.300" fill="#000"/>
<circle cx="294.3" cy="408.5" r="2.300" fill="#000"/>
<circle cx="340.2" cy="440.7" r="2.300" fill="#000"/>
<circle cx="389.3" cy="378" r="2.300" fill="#000"/>
<circle cx="479.2" cy="408.5" r="2.300" fill="#000"/>
<circle cx="502.2" cy="408.5" r="2.300" fill="#000"/>
<path d="M502.200 408 C504 389.500 530 389 533 404" stroke="#3f63a8" stroke-width="1.900" fill="none"/><path d="M529.500 402.500 L533.800 408 L536 401.500Z" fill="#3f63a8"/>
<text x="246.5" y="371.5" fill="#3f63a8" text-anchor="start" style='font-family:"Liberation Serif", serif;font-size:12.5px;font-weight:bold;' textLength="64.5" lengthAdjust="spacingAndGlyphs">initialization</text>
<text x="357.5" y="371.5" fill="#3f63a8" text-anchor="start" style='font-family:"Liberation Serif", serif;font-size:12.5px;font-weight:bold;' textLength="72" lengthAdjust="spacingAndGlyphs">upload target</text>
<text x="472.5" y="371.5" fill="#3f63a8" text-anchor="start" style='font-family:"Liberation Serif", serif;font-size:12.5px;font-weight:bold;' textLength="77.5" lengthAdjust="spacingAndGlyphs">ReID of tracks</text>
<text x="257" y="395" fill="#111" text-anchor="start" style='font-family:"Liberation Serif", serif;font-size:12.3px;font-weight:bold;' >(1)</text>
<text x="301" y="426.5" fill="#111" text-anchor="start" style='font-family:"Liberation Serif", serif;font-size:12.3px;font-weight:bold;' >(2)</text>
<text x="346" y="452.5" fill="#111" text-anchor="start" style='font-family:"Liberation Serif", serif;font-size:12.3px;font-weight:bold;' >(3)</text>
<text x="395" y="395" fill="#111" text-anchor="start" style='font-family:"Liberation Serif", serif;font-size:12.3px;font-weight:bold;' >(4)</text>
<text x="480.5" y="427.5" fill="#111" text-anchor="start" style='font-family:"Liberation Serif", serif;font-size:12.3px;font-weight:bold;' >(5)</text>
<text x="529" y="394" fill="#111" text-anchor="start" style='font-family:"Liberation Serif", serif;font-size:12.3px;font-weight:bold;' >(6)</text>
<text x="305.5" y="397.5" fill="#222" text-anchor="start" style='font-family:"Liberation Serif", serif;font-size:12.5px;' textLength="78" lengthAdjust="spacingAndGlyphs">upload_target()</text>
<text x="405" y="429" fill="#222" text-anchor="start" style='font-family:"Liberation Serif", serif;font-size:12.5px;' textLength="67" lengthAdjust="spacingAndGlyphs">fetch_target()</text>
<rect x="125.300" y="458.500" width="429.500" height="19" rx="9.500" fill="#fff" stroke="#4f69a4" stroke-width="1.400"/>
<text x="249.5" y="472.5" fill="#111" text-anchor="start" style='font-family:"Liberation Serif", serif;font-size:12.4px;font-weight:bold;' textLength="178.5" lengthAdjust="spacingAndGlyphs">Trackchain consensus mechanism</text>
<path d="M479.200 408.500 V450.200 H428 V486" stroke="#3f63a8" stroke-width="1.100" fill="none" stroke-dasharray="2.4 1.6"/><path d="M424.800 485 L428 492.500 L431.200 485Z" fill="#3f63a8"/>
<path d="M210.500 513 H225" stroke="#333" stroke-width="1.300" stroke-dasharray="2.500 1.500"/>
<path d="M266.5 513 H273.5" stroke="#222" stroke-width="1.300"/>
<path d="M314 513 H322.5" stroke="#222" stroke-width="1.300"/>
<path d="M362.5 513 H370.5" stroke="#222" stroke-width="1.300"/>
<path d="M410.5 513 H417.5" stroke="#222" stroke-width="1.300"/>
<path d="M457.5 513 H465.5" stroke="#222" stroke-width="1.300"/>
<path d="M506 513 H513.5" stroke="#222" stroke-width="1.300"/>
<rect x="169.5" y="493.500" width="41.0" height="39" fill="#fff" stroke="#222" stroke-width="1.200"/>
<text x="190.0" y="509.4" fill="#333" text-anchor="middle" style='font-family:"Liberation Serif", serif;font-size:11.1px;' >genesis</text>
<text x="190.0" y="522.8" fill="#333" text-anchor="middle" style='font-family:"Liberation Serif", serif;font-size:11.2px;' >block</text>
<rect x="225" y="493.500" width="41.5" height="39" fill="url(#gblk)" stroke="#222" stroke-width="1.200"/>
<text x="245.75" y="509.4" fill="#333" text-anchor="middle" style='font-family:"Liberation Serif", serif;font-size:11.1px;' >n-th</text>
<text x="245.75" y="522.8" fill="#333" text-anchor="middle" style='font-family:"Liberation Serif", serif;font-size:11.2px;' >block</text>
<rect x="273.5" y="493.500" width="40.5" height="39" fill="url(#gblk)" stroke="#222" stroke-width="1.200"/>
<text x="293.75" y="509.4" fill="#333" text-anchor="middle" style='font-family:"Liberation Serif", serif;font-size:11.1px;' textLength="37.5" lengthAdjust="spacingAndGlyphs">(n+1)-th</text>
<text x="293.75" y="522.8" fill="#333" text-anchor="middle" style='font-family:"Liberation Serif", serif;font-size:11.2px;' >block</text>
<rect x="322.5" y="493.500" width="40.0" height="39" fill="#fff" stroke="#222" stroke-width="1.200"/>
<rect x="370.5" y="493.500" width="40.0" height="39" fill="url(#gblk)" stroke="#222" stroke-width="1.200"/>
<text x="390.5" y="509.4" fill="#333" text-anchor="middle" style='font-family:"Liberation Serif", serif;font-size:11.1px;' textLength="37.5" lengthAdjust="spacingAndGlyphs">(n+3)-th</text>
<text x="390.5" y="522.8" fill="#333" text-anchor="middle" style='font-family:"Liberation Serif", serif;font-size:11.2px;' >block</text>
<rect x="417.5" y="493.500" width="40.0" height="39" fill="#fff" stroke="#222" stroke-width="1.200"/>
<rect x="465.5" y="493.500" width="40.5" height="39" fill="#fff" stroke="#222" stroke-width="1.200"/>
<rect x="513.5" y="493.500" width="40.5" height="39" fill="#fff" stroke="#222" stroke-width="1.200"/>
<rect x="559" y="356.700" width="95.200" height="177.500" fill="#fff" stroke="#8a8a8a" stroke-width="1" stroke-dasharray="2.500 2"/>
<text x="584.2" y="369.3" fill="#333" text-anchor="start" style='font-family:"Liberation Serif", serif;font-size:12.8px;font-style:italic;' textLength="48.3" lengthAdjust="spacingAndGlyphs">Topology</text>
<ellipse cx="607" cy="403.300" rx="46.200" ry="30" fill="#d0d0d0"/>
<path d="M597.500 383.300 L582.500 390 M612.500 383.700 L627.500 390 M604.700 390 V398.300 M578.300 402.500 L581.300 409.200 M634.200 402.500 L633 409.200 M598.700 407.500 L589.200 415.800 M612.500 406.700 L626.700 416.700" stroke="#6f92cf" stroke-width="1.100" fill="none"/>
<use href="#cam" x="598.2" y="377.7" width="13" height="10.600"/>
<use href="#cam" x="570.8" y="390.59999999999997" width="13" height="10.600"/>
<use href="#cam" x="627.8" y="390.59999999999997" width="13" height="10.600"/>
<use href="#cam" x="598.7" y="400.4" width="13" height="10.600"/>
<use href="#cam" x="574.8" y="410.9" width="13" height="10.600"/>
<use href="#cam" x="625.3" y="410.9" width="13" height="10.600"/>
<path d="M562 417.500 H559 V415 L554.300 421.300 L559 427.600 V425 H562Z" fill="#c00000"/>
<rect x="600.200" y="452" width="10.200" height="14.300" fill="#fff" stroke="#111" stroke-width="1.300"/>
<path d="M602 462.500 C602 457 604 455.300 606.500 455.300 V453 L611.200 456.800 L606.500 460.600 V458.300 C604.500 458.300 603 459.800 602 462.500Z" fill="#111"/>
<text x="569.9" y="458.8" fill="#222" text-anchor="start" style='font-family:"Liberation Serif", serif;font-size:10.5px;' textLength="23" lengthAdjust="spacingAndGlyphs">smart</text>
<text x="616.7" y="458.8" fill="#222" text-anchor="start" style='font-family:"Liberation Serif", serif;font-size:10.5px;' textLength="33" lengthAdjust="spacingAndGlyphs">contract</text>
<path d="M606 433.500 V448.500" stroke="#6f92cf" stroke-width="1.100"/>
<path d="M600.700 474.400 L584.800 497.300 M603.500 474.400 L588 497.300 M610.700 474.400 L626.300 499.500 M613.500 474.400 L629.500 499.500" stroke="#6f92cf" stroke-width="1"/>
<path d="M600 477.500 L601.300 473.200 L603.300 476.500Z M611 476.500 L613 473.200 L614.500 477.500Z" fill="#6f92cf"/>
<path d="M597.600 452.700 C588 449 579 446 580.500 441 C582 437 586 435 589 434" stroke="#2b2f3a" stroke-width="1.200" fill="none" stroke-dasharray="6.500 3"/><path d="M586.500 432.200 L592.500 432.600 L588.500 437Z" fill="#2b2f3a"/>
<path d="M613.500 452.700 C623 449 632 446 630.500 441 C629 437 625 435 622 434" stroke="#2b2f3a" stroke-width="1.200" fill="none" stroke-dasharray="6.500 3"/><path d="M624.500 432.200 L618.500 432.600 L622.500 437Z" fill="#2b2f3a"/>
<path d="M594.500 452.500 Q597.500 457.500 594.500 462" stroke="#2b2f3a" stroke-width="1.100" fill="none"/>
<path d="M616 452.500 Q613 457.500 616 462" stroke="#2b2f3a" stroke-width="1.100" fill="none"/>
<path d="M595.400 461.500 C586 465 577 468 574 471 C571 475 571 484 573.500 490 C575.500 495 578.500 498 581.600 500.500" stroke="#2b2f3a" stroke-width="1.200" fill="none" stroke-dasharray="7 3.500"/>
<path d="M614.600 461.500 C624 465 634 468 637.500 471 C642 475 643 482 641 489 C639.500 494 637 497 633.700 499.500" stroke="#2b2f3a" stroke-width="1.200" fill="none" stroke-dasharray="7 3.500"/>
<use href="#cam" x="574.200" y="502.200" width="13" height="10.600"/>
<use href="#cam" x="622.600" y="502.200" width="13" height="10.600"/>
<text x="571.6" y="524" fill="#222" text-anchor="start" style='font-family:"Liberation Serif", serif;font-size:10.2px;' textLength="61" lengthAdjust="spacingAndGlyphs">new edges join</text></g>
</svg>
</body></html>
